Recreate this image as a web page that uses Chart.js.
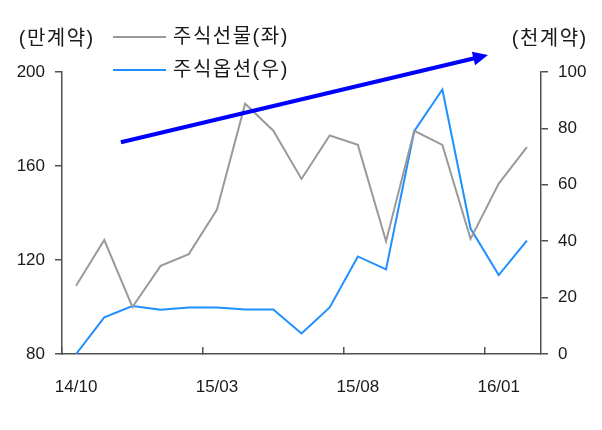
<!DOCTYPE html>
<html><head><meta charset="utf-8">
<script src="https://cdn.jsdelivr.net/npm/chart.js@4.4.1/dist/chart.umd.min.js"></script>
<style>html,body{margin:0;padding:0;background:#fff}#wrap{width:602px;height:430px}</style>
</head><body><div id="wrap"><canvas id="c" width="602" height="430"></canvas></div>
<script>
const categories = ['14/10','14/11','14/12','15/01','15/02','15/03','15/04','15/05','15/06','15/07','15/08','15/09','15/10','15/11','15/12','16/01','16/02'];
const futuresSeries = [109, 128.5, 100, 117.5, 122.5, 141.5, 186.5, 175, 154.5, 173, 169, 128, 175, 169, 129, 152.5, 168];
const optionsSeries = [0, 13, 17, 15.7, 16.5, 16.5, 15.8, 15.8, 7.3, 16.5, 34.6, 30, 79, 93.8, 44.5, 28, 40.2];
const seriesNames = ['주식선물(좌)', '주식옵션(우)'];
const leftTicks = [80, 120, 160, 200];
const rightTicks = [0, 20, 40, 60, 80, 100];
const shownLabels = ['14/10', '15/03', '15/08', '16/01'];
const axisUnits = ['(만계약)', '(천계약)'];
// trend arrow annotation, in data units: [category index, left-axis value]
const arrowFrom = [1.59, 170.1];
const arrowTo = [14.62, 207.2];

const AXIS = '#505050';
const NUMFONT = {family: "'Liberation Sans', Arial, sans-serif", size: 17};
const KFONT = "20px 'Liberation Sans', 'Noto Sans CJK KR', sans-serif";
const SPACING = 1.5;

function spacedWidth(ctx, s) {
  let w = 0;
  for (const ch of s) w += ctx.measureText(ch).width + SPACING;
  return w - SPACING;
}
function spacedText(ctx, s, x, y, align) {
  let cx = align === 'center' ? x - spacedWidth(ctx, s) / 2 : x;
  ctx.textAlign = 'left';
  for (const ch of s) {
    ctx.fillText(ch, cx, y);
    cx += ctx.measureText(ch).width + SPACING;
  }
}

const overlay = {
  id: 'overlay',
  afterDraw(chart) {
    const ctx = chart.ctx;
    const x = chart.scales.x, y = chart.scales.y;
    // arrow
    const x0 = x.getPixelForValue(arrowFrom[0]), y0 = y.getPixelForValue(arrowFrom[1]);
    const x1 = x.getPixelForValue(arrowTo[0]), y1 = y.getPixelForValue(arrowTo[1]);
    const ang = Math.atan2(y1 - y0, x1 - x0);
    const hl = 15, hw = 7;
    const bx = x1 - hl * Math.cos(ang), by = y1 - hl * Math.sin(ang);
    ctx.save();
    ctx.strokeStyle = '#0000ff'; ctx.fillStyle = '#0000ff';
    ctx.lineWidth = 4; ctx.lineCap = 'butt';
    ctx.beginPath(); ctx.moveTo(x0, y0); ctx.lineTo(bx + Math.cos(ang), by + Math.sin(ang)); ctx.stroke();
    ctx.beginPath();
    ctx.moveTo(x1, y1);
    ctx.lineTo(bx + hw * Math.sin(ang), by - hw * Math.cos(ang));
    ctx.lineTo(bx - hw * Math.sin(ang), by + hw * Math.cos(ang));
    ctx.closePath(); ctx.fill();
    ctx.restore();

    // texts
    ctx.save();
    ctx.font = KFONT;
    ctx.fillStyle = '#1a1a1a';
    ctx.textBaseline = 'middle';
    spacedText(ctx, axisUnits[0], 56, 39, 'center');
    spacedText(ctx, axisUnits[1], 549, 39, 'center');
    // legend
    const rows = [37, 70];
    chart.data.datasets.forEach((ds, i) => {
      ctx.strokeStyle = ds.borderColor; ctx.lineWidth = 2;
      ctx.beginPath(); ctx.moveTo(113, rows[i]); ctx.lineTo(166, rows[i]); ctx.stroke();
      spacedText(ctx, ds.label, 173, rows[i], 'left');
    });
    ctx.restore();
  }
};

new Chart(document.getElementById('c'), {
  type: 'line',
  data: {
    labels: categories,
    datasets: [
      {label: seriesNames[0], data: futuresSeries, borderColor: '#9a9a9a', borderWidth: 2, pointRadius: 0, tension: 0, yAxisID: 'y'},
      {label: seriesNames[1], data: optionsSeries, borderColor: '#1e90ff', borderWidth: 2, pointRadius: 0, tension: 0, yAxisID: 'y1'}
    ]
  },
  options: {
    responsive: false, animation: false, devicePixelRatio: 1,
    layout: {padding: {top: 72, left: 0, right: 0, bottom: 0}},
    plugins: {legend: {display: false}, tooltip: {enabled: false}},
    scales: {
      x: {
        type: 'category', offset: true,
        grid: {
          offset: true, drawOnChartArea: false, tickLength: -7, lineWidth: 1.5,
          color: c => (c.index !== undefined && shownLabels.includes(categories[c.index])) ? AXIS : 'rgba(0,0,0,0)'
        },
        border: {color: AXIS, width: 1.5},
        ticks: {
          autoSkip: false, maxRotation: 0, minRotation: 0, padding: 30, font: NUMFONT, color: '#1a1a1a',
          callback: (v, i) => shownLabels.includes(categories[i]) ? categories[i] : ''
        },
        afterFit: s => { s.height = 76; }
      },
      y: {
        type: 'linear', position: 'left', min: 80, max: 200,
        grid: {drawOnChartArea: false, tickLength: 7, color: AXIS, lineWidth: 1.5},
        border: {color: AXIS, width: 1.5},
        ticks: {padding: 10, font: NUMFONT, color: '#1a1a1a'},
        afterBuildTicks: s => { s.ticks = leftTicks.map(v => ({value: v})); },
        afterFit: s => { s.width = 62; }
      },
      y1: {
        type: 'linear', position: 'right', min: 0, max: 100,
        grid: {drawOnChartArea: false, tickLength: 7, color: AXIS, lineWidth: 1.5},
        border: {color: AXIS, width: 1.5},
        ticks: {padding: 10, font: NUMFONT, color: '#1a1a1a'},
        afterBuildTicks: s => { s.ticks = rightTicks.map(v => ({value: v})); },
        afterFit: s => { s.width = 61; }
      }
    }
  },
  plugins: [overlay]
});
</script>
</body></html>
